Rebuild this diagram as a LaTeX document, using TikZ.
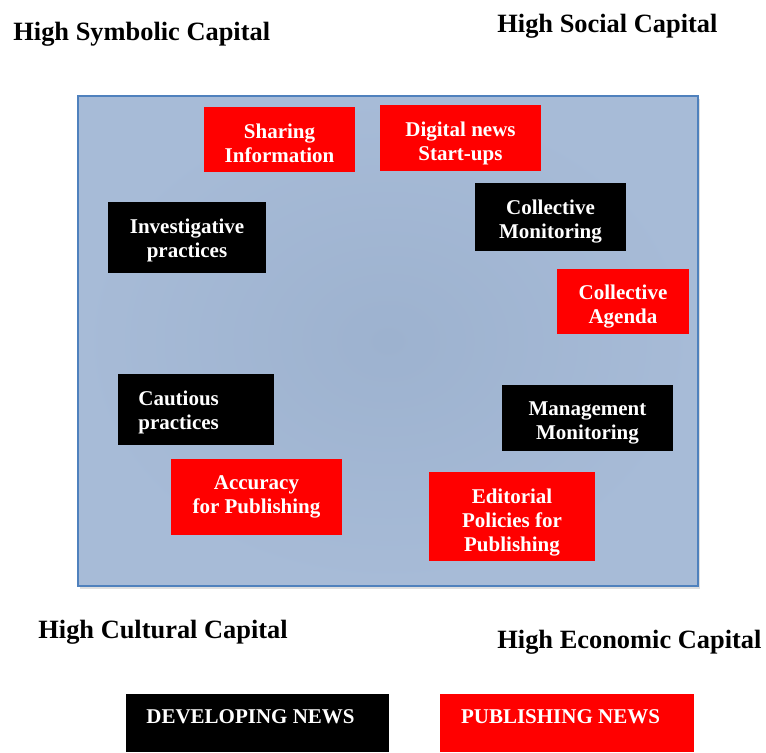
\documentclass[tikz,border=0pt]{standalone}
\usepackage{fontspec}
\setmainfont{Liberation Serif}
\usepackage{tikz}
\usetikzlibrary{positioning, calc, shadows}
\definecolor{panelin}{RGB}{157,178,207}
\definecolor{panelout}{RGB}{167,187,215}
\definecolor{panelline}{RGB}{79,129,189}
\newcommand{\boxfont}{\fontsize{10.5}{12}\selectfont\bfseries}
\newcommand{\capfont}{\fontsize{13.2}{15}\selectfont\bfseries}
\tikzstyle{panel}=[shade, inner color=panelin, outer color=panelout, draw=panelline, line width=0.6pt, drop shadow={shadow xshift=1.2pt, shadow yshift=-1.5pt, opacity=0.25}]
\tikzstyle{devbox}=[fill=black, text=white, inner sep=0pt, font=\boxfont, align=center]
\tikzstyle{pubbox}=[fill=red, text=white, inner sep=0pt, font=\boxfont, align=center]
\tikzstyle{boxtext}=[text=white, inner sep=0pt, font=\boxfont, align=center]
\tikzstyle{capital}=[anchor=base west, inner sep=0pt, font=\capfont]

\begin{document}
\begin{tikzpicture}[x=0.5pt, y=-0.5pt]
	\useasboundingbox (0,0) rectangle (766,752);

	\node[panel, minimum width=310pt, minimum height=245pt] (field) at (388,341) {};

	% corner labels
	\node[capital] (symbolic) at (13,40) {High Symbolic Capital};
	\node[capital] (social) at (497,32) {High Social Capital};
	\node[capital] (cultural) at (38,638) {High Cultural Capital};
	\node[capital] (economic) at (497,648) {High Economic Capital};

	% practices
	\node[pubbox, minimum width=75.5pt, minimum height=32.5pt] (sharing) at (279.5,139.5) {};
	\node[pubbox, minimum width=80.5pt, minimum height=33pt] (startups) at (460.5,138) {};
	\node[devbox, minimum width=79pt, minimum height=35.5pt] (investig) at (187,237.5) {};
	\node[devbox, minimum width=75.5pt, minimum height=34pt] (collmon) at (550.5,217) {};
	\node[pubbox, minimum width=66pt, minimum height=32.5pt] (agenda) at (623,301.5) {};
	\node[devbox, minimum width=78pt, minimum height=35.5pt] (cautious) at (196,409.5) {};
	\node[devbox, minimum width=85.5pt, minimum height=33pt] (mgmt) at (587.5,418) {};
	\node[pubbox, minimum width=85.5pt, minimum height=38pt] (accuracy) at (256.5,497) {Accuracy\\for Publishing};
	\node[pubbox, minimum width=83pt, minimum height=44.5pt] (editorial) at (512,516.5) {};

	\node[boxtext] (sharingtext) at ($(sharing)+(0,4)$) {Sharing\\Information};
	\node[boxtext] (startupstext) at ($(startups)+(0,5)$) {Digital news\\Start-ups};
	\node[boxtext] (investigtext) at ($(investig)+(0,3)$) {Investigative\\practices};
	\node[boxtext] (collmontext) at ($(collmon)+(0,4.5)$) {Collective\\Monitoring};
	\node[boxtext, align=left, anchor=west] (cautioustext) at (138,412) {Cautious\\practices};
	\begin{scope}
		\clip (agenda.south west) rectangle (agenda.north east);
		\node[boxtext] (agendatext) at ($(agenda)+(0,5)$) {Collective\\Agenda};
	\end{scope}
	\begin{scope}
		\clip (mgmt.south west) rectangle (mgmt.north east);
		\node[boxtext] (mgmttext) at ($(mgmt)+(0,4.5)$) {Management\\Monitoring};
	\end{scope}
	\begin{scope}
		\clip (editorial.south west) rectangle (editorial.north east);
		\node[boxtext] (editorialtext) at ($(editorial)+(0,6)$) {Editorial\\Policies for\\Publishing};
	\end{scope}

	% legend
	\node[devbox, minimum width=131.5pt, minimum height=29pt] (devnews) at (257.5,723) {};
	\node[pubbox, minimum width=127pt, minimum height=29pt] (pubnews) at (567,723) {};
	\node[boxtext] (devtext) at (250.5,717) {DEVELOPING NEWS};
	\node[boxtext] (pubtext) at (560.5,717) {PUBLISHING NEWS};
\end{tikzpicture}
\end{document}
